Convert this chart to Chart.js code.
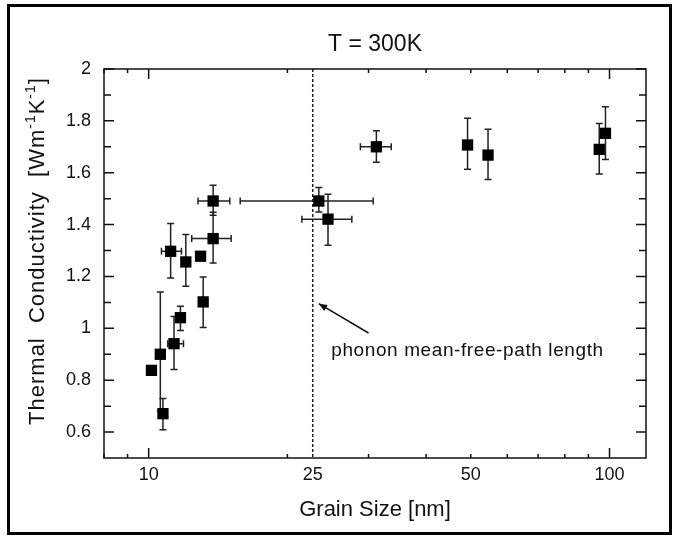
<!DOCTYPE html>
<html>
<head>
<meta charset="utf-8">
<script src="https://cdn.jsdelivr.net/npm/chart.js@4.4.1/dist/chart.umd.min.js"></script>
<style>
  html, body { margin: 0; padding: 0; background: #fff; }
  canvas { display: block; }
</style>
</head>
<body>
<canvas id="chart" width="674" height="536"></canvas>
<script>
// Grain size [nm] vs thermal conductivity at 300 K
const grainSize    = [10.14, 10.6, 10.74, 11.16, 11.35, 11.72, 12.04, 12.96, 13.13, 13.8, 13.8, 23.4, 24.5, 31.2, 49.2, 54.5, 95, 98];
const conductivity = [0.838, 0.900, 0.671, 1.297, 0.941, 1.041, 1.256, 1.278, 1.102, 1.346, 1.491, 1.491, 1.421, 1.700, 1.707, 1.668, 1.690, 1.752];
// error bars (null = no bar)
const condLow  = [null, 0.68, 0.609, 1.194, 0.841, 0.992, 1.162, null, 1.003, 1.252, 1.436, 1.449, 1.320, 1.640, 1.613, 1.574, 1.595, 1.651];
const condHigh = [null, 1.14, 0.729, 1.404, 1.046, 1.085, 1.362, null, 1.198, 1.448, 1.552, 1.543, 1.517, 1.762, 1.810, 1.768, 1.790, 1.854];
const sizeLow  = [null, null, null, 10.66, 11.0, null, null, null, null, 12.4, 12.8, 15.8, 21.5, 28.8, null, null, null, null];
const sizeHigh = [null, null, null, 11.78, 11.9, null, null, null, null, 15.1, 15.0, 30.7, 27.6, 33.6, null, null, null, null];

// axis ticks
const yTickValues  = [0.6, 0.8, 1.0, 1.2, 1.4, 1.6, 1.8, 2.0];
const yMinorTicks  = [0.7, 0.9, 1.1, 1.3, 1.5, 1.7, 1.9];
const xTickValues  = [10, 22.7, 50, 100];
const xTickLabels  = ['10', '25', '50', '100'];
const xMajorTicks  = [10, 100];
const xMinorTicks  = [8, 9, 20, 30, 40, 50, 60, 70, 80, 90];

// phonon mean-free-path marker
const mfpLength = 22.7;
const mfpText = 'phonon mean-free-path length';

const FONT = "'Liberation Sans', Arial, sans-serif";
const INK = '#111';

// error bars + dashed line, under the markers
const underlayPlugin = {
  id: 'underlay',
  beforeDatasetsDraw(chart) {
    const { ctx, chartArea, scales: { x, y } } = chart;
    ctx.save();
    ctx.strokeStyle = '#222';
    ctx.lineWidth = 1.5;

    // dashed vertical line
    const lx = x.getPixelForValue(mfpLength);
    ctx.setLineDash([3, 2]);
    ctx.beginPath();
    ctx.moveTo(lx, chartArea.top);
    ctx.lineTo(lx, chartArea.bottom);
    ctx.stroke();
    ctx.setLineDash([]);

    const cap = 3.5;
    grainSize.forEach((gs, i) => {
      const px = x.getPixelForValue(gs);
      const py = y.getPixelForValue(conductivity[i]);
      if (condLow[i] !== null) {
        const y1 = y.getPixelForValue(condLow[i]);
        const y2 = y.getPixelForValue(condHigh[i]);
        ctx.beginPath();
        ctx.moveTo(px, y1); ctx.lineTo(px, y2);
        ctx.moveTo(px - cap, y1); ctx.lineTo(px + cap, y1);
        ctx.moveTo(px - cap, y2); ctx.lineTo(px + cap, y2);
        ctx.stroke();
      }
      if (sizeLow[i] !== null) {
        const x1 = x.getPixelForValue(sizeLow[i]);
        const x2 = x.getPixelForValue(sizeHigh[i]);
        ctx.beginPath();
        ctx.moveTo(x1, py); ctx.lineTo(x2, py);
        ctx.moveTo(x1, py - cap); ctx.lineTo(x1, py + cap);
        ctx.moveTo(x2, py - cap); ctx.lineTo(x2, py + cap);
        ctx.stroke();
      }
    });
    ctx.restore();
  }
};

// y axis title with real superscripts
function drawYTitle(ctx, cx, cy) {
  const parts = [
    ['Thermal  Conductivity  [Wm', 0], ['-1', 1], ['K', 0], ['-1', 1], [']', 0]
  ];
  const big = '22px ' + FONT, small = '14px ' + FONT;
  ctx.save();
  ctx.letterSpacing = '1px';
  let total = 0;
  parts.forEach(([t, sup]) => { ctx.font = sup ? small : big; total += ctx.measureText(t).width; });
  ctx.translate(cx, cy);
  ctx.rotate(-Math.PI / 2);
  ctx.fillStyle = INK;
  ctx.textBaseline = 'middle';
  ctx.textAlign = 'left';
  let pos = -total / 2;
  parts.forEach(([t, sup]) => {
    ctx.font = sup ? small : big;
    ctx.fillText(t, pos, sup ? -7 : 0);
    pos += ctx.measureText(t).width;
  });
  ctx.restore();
}

// box, inward ticks, annotation, outer frame
const overlayPlugin = {
  id: 'overlay',
  afterDraw(chart) {
    const { ctx, chartArea: a, scales: { x, y } } = chart;
    ctx.save();
    ctx.strokeStyle = INK;
    ctx.lineWidth = 1.5;
    ctx.strokeRect(a.left, a.top, a.right - a.left, a.bottom - a.top);

    const tickY = (v, len) => {
      const py = y.getPixelForValue(v);
      ctx.beginPath();
      ctx.moveTo(a.left, py); ctx.lineTo(a.left + len, py);
      ctx.moveTo(a.right, py); ctx.lineTo(a.right - len, py);
      ctx.stroke();
    };
    const tickX = (v, len) => {
      const px = x.getPixelForValue(v);
      ctx.beginPath();
      ctx.moveTo(px, a.bottom); ctx.lineTo(px, a.bottom - len);
      ctx.moveTo(px, a.top); ctx.lineTo(px, a.top + len);
      ctx.stroke();
    };
    yTickValues.forEach(v => tickY(v, 10));
    yMinorTicks.forEach(v => tickY(v, 7));
    xMajorTicks.forEach(v => tickX(v, 10));
    xMinorTicks.forEach(v => tickX(v, 4));

    // arrow to the dashed line
    const ax1 = x.getPixelForValue(30.0), ay1 = y.getPixelForValue(0.982);
    const ax2 = x.getPixelForValue(23.4), ay2 = y.getPixelForValue(1.095);
    ctx.beginPath();
    ctx.moveTo(ax1, ay1); ctx.lineTo(ax2, ay2);
    ctx.stroke();
    const ang = Math.atan2(ay2 - ay1, ax2 - ax1);
    ctx.fillStyle = INK;
    ctx.beginPath();
    ctx.moveTo(ax2, ay2);
    ctx.lineTo(ax2 - 9 * Math.cos(ang - 0.4), ay2 - 9 * Math.sin(ang - 0.4));
    ctx.lineTo(ax2 - 9 * Math.cos(ang + 0.4), ay2 - 9 * Math.sin(ang + 0.4));
    ctx.closePath();
    ctx.fill();

    ctx.font = '19px ' + FONT;
    ctx.letterSpacing = '0.6px';
    ctx.textAlign = 'left';
    ctx.textBaseline = 'middle';
    ctx.fillText(mfpText, x.getPixelForValue(24.9), y.getPixelForValue(0.915));
    ctx.letterSpacing = '0px';

    drawYTitle(ctx, 38, 251);

    // outer figure frame
    ctx.lineWidth = 3;
    ctx.strokeStyle = '#000';
    ctx.strokeRect(8.5, 5.5, 662, 528);
    ctx.restore();
  }
};

new Chart(document.getElementById('chart'), {
  type: 'scatter',
  data: {
    datasets: [{
      label: 'T = 300K',
      data: grainSize.map((gs, i) => ({ x: gs, y: conductivity[i] })),
      pointStyle: 'rect',
      pointRadius: 8,
      pointHoverRadius: 8,
      backgroundColor: '#000',
      borderColor: '#000',
      borderWidth: 0
    }]
  },
  options: {
    responsive: false,
    devicePixelRatio: 1,
    animation: false,
    layout: { padding: { left: 0, right: 28, top: 0, bottom: 0 } },
    plugins: {
      legend: { display: false },
      tooltip: { enabled: false },
      title: {
        display: true,
        text: 'T = 300K',
        fullSize: false,
        color: INK,
        font: { family: FONT, size: 23, weight: 'normal' },
        padding: { top: 31.2, bottom: 10.2 }
      }
    },
    scales: {
      x: {
        type: 'logarithmic',
        min: 8,
        max: 120,
        grid: { display: false, drawTicks: false },
        border: { display: false },
        afterBuildTicks: s => { s.ticks = xTickValues.map(v => ({ value: v })); },
        afterFit: s => { s.height = 78; },
        ticks: {
          autoSkip: false,
          maxRotation: 0,
          padding: 6,
          color: INK,
          font: { family: FONT, size: 18 },
          callback: (v, i) => xTickLabels[i]
        },
        title: {
          display: true,
          text: 'Grain Size [nm]',
          color: INK,
          font: { family: FONT, size: 22 },
          padding: { top: 0, bottom: 12.8 }
        }
      },
      y: {
        min: 0.5,
        max: 2.0,
        grid: { display: false, drawTicks: false },
        border: { display: false },
        afterBuildTicks: s => { s.ticks = yTickValues.map(v => ({ value: v })); },
        afterFit: s => { s.width = 104; },
        ticks: {
          padding: 13,
          color: INK,
          font: { family: FONT, size: 18 },
          callback: v => String(Math.round(v * 10) / 10)
        },
        title: { display: false }
      }
    }
  },
  plugins: [underlayPlugin, overlayPlugin]
});
</script>
</body>
</html>
